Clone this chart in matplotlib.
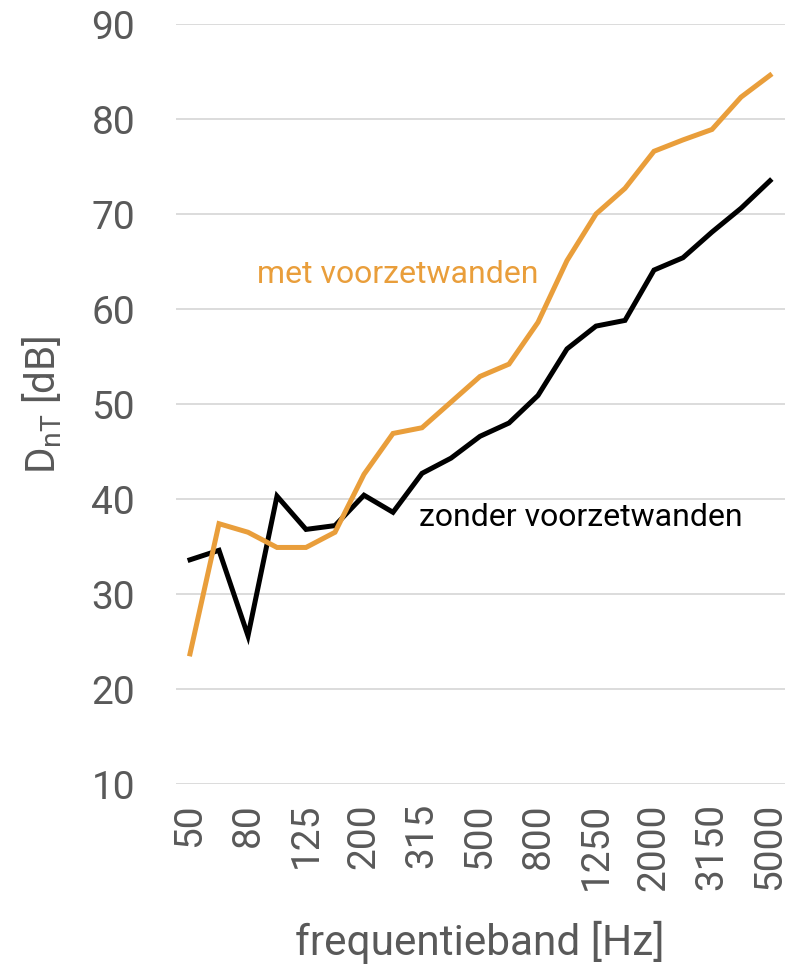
import matplotlib.pyplot as plt
import numpy as np

plt.rcParams['font.family'] = ['Roboto', 'DejaVu Sans']
plt.rcParams['mathtext.default'] = 'regular'

bands = ['50', '63', '80', '100', '125', '160', '200', '250', '315', '400', '500',
         '630', '800', '1000', '1250', '1600', '2000', '2500', '3150', '4000', '5000']
met = [23.7, 37.4, 36.5, 34.9, 34.9, 36.5, 42.6, 46.9, 47.5, 50.2, 52.9,
       54.2, 58.6, 65.1, 70.0, 72.7, 76.6, 77.8, 78.9, 82.3, 84.6]
zonder = [33.6, 34.6, 25.6, 40.3, 36.8, 37.2, 40.4, 38.6, 42.7, 44.3, 46.6,
          48.0, 50.9, 55.8, 58.2, 58.8, 64.1, 65.4, 68.1, 70.6, 73.5]

grey = '#595959'
orange = '#E99E3B'

fig = plt.figure(figsize=(7.91, 9.79), dpi=100)
ax = fig.add_axes([175.5 / 791, 1 - 785 / 979, 609 / 791, 760 / 979])

x = np.arange(len(bands))
ax.plot(x, zonder, color='black', lw=3.6, solid_joinstyle='miter', zorder=3)
ax.plot(x, met, color=orange, lw=3.6, solid_joinstyle='miter', zorder=3)

ax.set_xlim(-0.5, 20.5)
ax.set_ylim(10, 90)
ax.set_yticks(range(10, 91, 10))
ax.set_xticks(x[::2])
ax.set_xticklabels(bands[::2], rotation=90, fontsize=28, color=grey)
ax.tick_params(axis='y', labelsize=28, labelcolor=grey, length=0, pad=29)
ax.tick_params(axis='x', length=0, pad=13)
ax.grid(axis='y', color='#d9d9d9', lw=1.3)
for s in ax.spines.values():
    s.set_visible(False)

ax.set_xlabel('frequentieband [Hz]', fontsize=30.5, color=grey, labelpad=22)
ax.set_ylabel('D$_{nT}$ [dB]', fontsize=29, color=grey, labelpad=20)

ax.text(2.3, 62.8, 'met voorzetwanden', color=orange, fontsize=23, va='baseline')
ax.text(7.9, 37.3, 'zonder voorzetwanden', color='black', fontsize=23, va='baseline')

fig.savefig('out.png', dpi=100)
